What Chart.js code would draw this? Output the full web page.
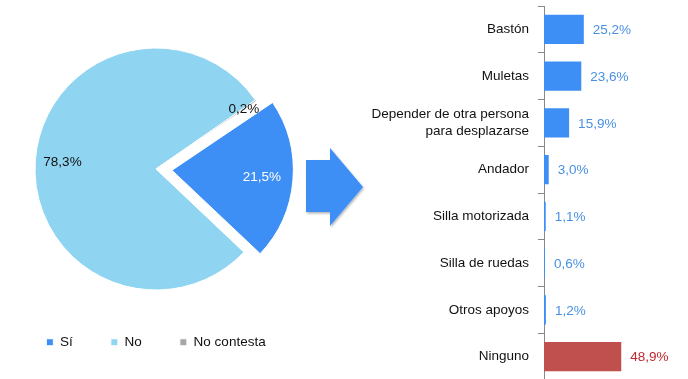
<!DOCTYPE html>
<html>
<head>
<meta charset="utf-8">
<script src="https://cdn.jsdelivr.net/npm/chart.js@4"></script>
<style>
  html, body { margin: 0; padding: 0; background: #fff; overflow: hidden; }
  #wrap { position: relative; width: 688px; height: 379px; overflow: hidden; }
  #pieBox { position: absolute; left: 0; top: 0; width: 312px; height: 359px; }
  #barBox { position: absolute; left: 340px; top: 0; width: 348px; height: 381px; }
  #arrow { position: absolute; left: 300px; top: 140px; }
</style>
</head>
<body>
<div id="wrap">
  <div id="pieBox"><canvas id="pieChart"></canvas></div>
  <svg id="arrow" width="72" height="95" viewBox="300 140 72 95">
    <defs>
      <filter id="sh" x="-20%" y="-20%" width="140%" height="140%">
        <feDropShadow dx="1" dy="1.5" stdDeviation="1.2" flood-color="#000" flood-opacity="0.3"/>
      </filter>
    </defs>
    <polygon points="306,160 330,160 330,148 363,187 330,226 330,212 306,212" fill="#3d8ff5" filter="url(#sh)"/>
  </svg>
  <div id="barBox"><canvas id="barChart"></canvas></div>
</div>
<script>
const pieLabels = ['Sí', 'No', 'No contesta'];
const pieValues = [21.5, 78.3, 0.2];
const pieText = ['21,5%', '78,3%', '0,2%'];
const pieColors = ['#3d8ff5', '#8fd4f0', '#a6a6a6'];

const barLabels = ['Bastón', 'Muletas', ['Depender de otra persona', 'para desplazarse'], 'Andador',
  'Silla motorizada', 'Silla de ruedas', 'Otros apoyos', 'Ninguno'];
const barValues = [25.2, 23.6, 15.9, 3.0, 1.1, 0.6, 1.2, 48.9];
const barText = ['25,2%', '23,6%', '15,9%', '3,0%', '1,1%', '0,6%', '1,2%', '48,9%'];

const FONT = 'Liberation Sans, Arial, sans-serif';

// labels placed inside the pie slices
const pieLabelPlugin = {
  id: 'pieLabels',
  afterDatasetsDraw(chart) {
    const ctx = chart.ctx;
    const meta = chart.getDatasetMeta(0);
    const factor = [0.745, 0.775, 0.88];
    const colors = ['#fff', '#111', '#111'];
    ctx.save();
    ctx.font = '13.5px ' + FONT;
    ctx.textAlign = 'center';
    ctx.textBaseline = 'middle';
    meta.data.forEach((arc, i) => {
      const p = arc.getProps(['x', 'y', 'startAngle', 'endAngle', 'outerRadius']);
      const mid = (p.startAngle + p.endAngle) / 2;
      const shift = (arc.options.offset || 0) / 4;
      const d = shift + p.outerRadius * factor[i];
      ctx.fillStyle = colors[i];
      ctx.fillText(pieText[i], p.x + Math.cos(mid) * d, p.y + Math.sin(mid) * d);
    });
    ctx.restore();
  }
};

new Chart(document.getElementById('pieChart'), {
  type: 'pie',
  data: {
    labels: pieLabels,
    datasets: [{
      data: pieValues,
      backgroundColor: pieColors,
      borderColor: '#fff',
      borderWidth: 1,
      offset: [64, 0, 0]
    }]
  },
  options: {
    responsive: true,
    maintainAspectRatio: false,
    animation: false,
    rotation: 56,
    radius: 121,
    layout: { padding: { top: 40.5 } },
    plugins: {
      legend: {
        position: 'bottom',
        labels: {
          boxWidth: 7,
          boxHeight: 7,
          padding: 38,
          color: '#111',
          font: { family: FONT, size: 13.5 }
        }
      },
      tooltip: { enabled: false }
    }
  },
  plugins: [pieLabelPlugin]
});

// value labels at the end of each bar
const barValuePlugin = {
  id: 'barValues',
  afterDatasetsDraw(chart) {
    const ctx = chart.ctx;
    const meta = chart.getDatasetMeta(0);
    ctx.save();
    ctx.font = '13.5px ' + FONT;
    ctx.textAlign = 'left';
    ctx.textBaseline = 'middle';
    meta.data.forEach((bar, i) => {
      ctx.fillStyle = i === barValues.length - 1 ? '#c0282d' : '#4a90e2';
      ctx.fillText(barText[i], bar.x + 9, bar.y + 1);
    });
    ctx.restore();
  }
};

new Chart(document.getElementById('barChart'), {
  type: 'bar',
  data: {
    labels: barLabels,
    datasets: [{
      data: barValues,
      backgroundColor: barValues.map((v, i) => i === barValues.length - 1 ? '#c0504d' : '#3d8ff5'),
      barPercentage: 0.63,
      categoryPercentage: 1
    }]
  },
  options: {
    indexAxis: 'y',
    responsive: true,
    maintainAspectRatio: false,
    animation: false,
    layout: { padding: { top: 6, bottom: 1, right: 17.6 } },
    scales: {
      x: { display: false, min: 0, max: 80 },
      y: {
        afterFit(scale) {
          scale.width = 204;
          scale.paddingTop = 0;
          scale.paddingBottom = 0;
        },
        grid: {
          offset: true,
          drawOnChartArea: false,
          drawTicks: true,
          tickLength: 6,
          color: '#888'
        },
        border: { display: true, color: '#888' },
        ticks: {
          padding: 9,
          color: '#111',
          font: { family: FONT, size: 13.5 }
        }
      }
    },
    plugins: {
      legend: { display: false },
      tooltip: { enabled: false }
    }
  },
  plugins: [barValuePlugin]
});
</script>
</body>
</html>
